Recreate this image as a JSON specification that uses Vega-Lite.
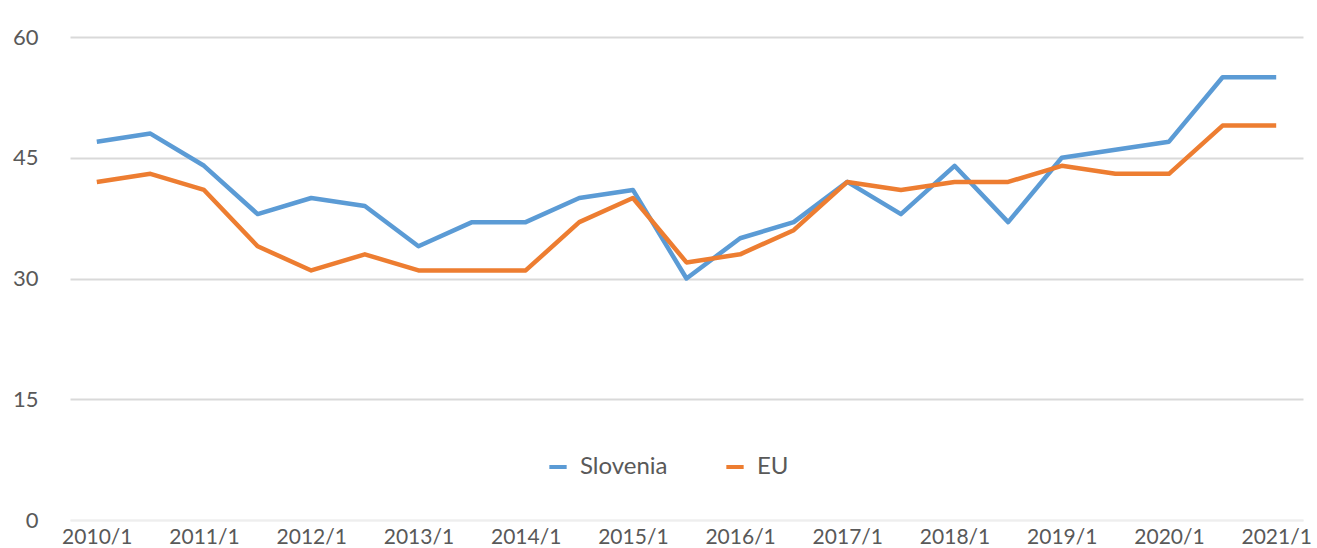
{
  "$schema": "https://vega.github.io/schema/vega-lite/v6.json",
  "width": 1233,
  "height": 483,
  "autosize": "none",
  "padding": {"left": 70, "top": 37, "right": 14, "bottom": 28},
  "background": "white",
  "config": {
    "view": {"stroke": null},
    "font": "Lato"
  },
  "data": {
    "values": [
      {"period": "2010/1", "series": "Slovenia", "value": 47},
      {"period": "2010/2", "series": "Slovenia", "value": 48},
      {"period": "2011/1", "series": "Slovenia", "value": 44},
      {"period": "2011/2", "series": "Slovenia", "value": 38},
      {"period": "2012/1", "series": "Slovenia", "value": 40},
      {"period": "2012/2", "series": "Slovenia", "value": 39},
      {"period": "2013/1", "series": "Slovenia", "value": 34},
      {"period": "2013/2", "series": "Slovenia", "value": 37},
      {"period": "2014/1", "series": "Slovenia", "value": 37},
      {"period": "2014/2", "series": "Slovenia", "value": 40},
      {"period": "2015/1", "series": "Slovenia", "value": 41},
      {"period": "2015/2", "series": "Slovenia", "value": 30},
      {"period": "2016/1", "series": "Slovenia", "value": 35},
      {"period": "2016/2", "series": "Slovenia", "value": 37},
      {"period": "2017/1", "series": "Slovenia", "value": 42},
      {"period": "2017/2", "series": "Slovenia", "value": 38},
      {"period": "2018/1", "series": "Slovenia", "value": 44},
      {"period": "2018/2", "series": "Slovenia", "value": 37},
      {"period": "2019/1", "series": "Slovenia", "value": 45},
      {"period": "2019/2", "series": "Slovenia", "value": 46},
      {"period": "2020/1", "series": "Slovenia", "value": 47},
      {"period": "2020/2", "series": "Slovenia", "value": 55},
      {"period": "2021/1", "series": "Slovenia", "value": 55},
      {"period": "2010/1", "series": "EU", "value": 42},
      {"period": "2010/2", "series": "EU", "value": 43},
      {"period": "2011/1", "series": "EU", "value": 41},
      {"period": "2011/2", "series": "EU", "value": 34},
      {"period": "2012/1", "series": "EU", "value": 31},
      {"period": "2012/2", "series": "EU", "value": 33},
      {"period": "2013/1", "series": "EU", "value": 31},
      {"period": "2013/2", "series": "EU", "value": 31},
      {"period": "2014/1", "series": "EU", "value": 31},
      {"period": "2014/2", "series": "EU", "value": 37},
      {"period": "2015/1", "series": "EU", "value": 40},
      {"period": "2015/2", "series": "EU", "value": 32},
      {"period": "2016/1", "series": "EU", "value": 33},
      {"period": "2016/2", "series": "EU", "value": 36},
      {"period": "2017/1", "series": "EU", "value": 42},
      {"period": "2017/2", "series": "EU", "value": 41},
      {"period": "2018/1", "series": "EU", "value": 42},
      {"period": "2018/2", "series": "EU", "value": 42},
      {"period": "2019/1", "series": "EU", "value": 44},
      {"period": "2019/2", "series": "EU", "value": 43},
      {"period": "2020/1", "series": "EU", "value": 43},
      {"period": "2020/2", "series": "EU", "value": 49},
      {"period": "2021/1", "series": "EU", "value": 49}
    ]
  },
  "mark": {"type": "line", "strokeWidth": 4.5, "strokeJoin": "round", "strokeCap": "butt"},
  "encoding": {
    "x": {
      "field": "period",
      "type": "ordinal",
      "sort": null,
      "scale": {"type": "point", "padding": 0.5},
      "axis": {
        "title": null,
        "values": ["2010/1","2011/1","2012/1","2013/1","2014/1","2015/1","2016/1","2017/1","2018/1","2019/1","2020/1","2021/1"],
        "labelAngle": 0,
        "labelFontSize": 21,
        "labelColor": "#595959",
        "labelPadding": 6,
        "ticks": false,
        "domain": true,
        "domainColor": "#eeeeee",
        "domainWidth": 2,
        "grid": false
      }
    },
    "y": {
      "field": "value",
      "type": "quantitative",
      "scale": {"domain": [0, 60], "nice": false, "zero": true},
      "axis": {
        "title": null,
        "values": [0, 15, 30, 45, 60],
        "labelFontSize": 22,
        "labelColor": "#595959",
        "labelPadding": 32,
        "ticks": false,
        "domain": false,
        "grid": true,
        "gridColor": {"condition": {"test": "datum.value === 0", "value": "#f2f2f2"}, "value": "#d9d9d9"},
        "gridWidth": 2
      }
    },
    "color": {
      "field": "series",
      "type": "nominal",
      "sort": ["Slovenia", "EU"],
      "scale": {"domain": ["Slovenia", "EU"], "range": ["#5b9bd5", "#ed7d31"]},
      "legend": {
        "title": null,
        "orient": "none",
        "direction": "horizontal",
        "legendX": 476,
        "legendY": 418,
        "symbolType": "stroke",
        "symbolStrokeWidth": 4,
        "symbolSize": 300,
        "labelFontSize": 24,
        "labelColor": "#595959",
        "labelOffset": 10,
        "columnPadding": 50
      }
    }
  }
}
